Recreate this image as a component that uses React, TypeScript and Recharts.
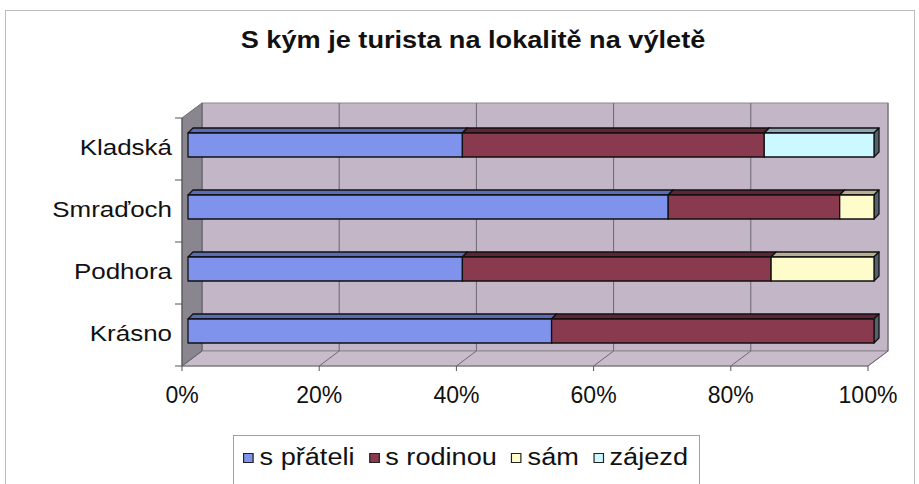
import { BarChart, Bar, XAxis, YAxis, CartesianGrid } from "recharts";

// categories top to bottom, values in % of tourists
const categories = ["Kladská", "Smraďoch", "Podhora", "Krásno"];
const sPrateli = [40, 70, 40, 53];
const sRodinou = [44, 25, 45, 47];
const sam = [0, 5, 15, 0];
const zajezd = [16, 0, 0, 0];
const xTicks = [0, 20, 40, 60, 80, 100];
const seriesNames = ["s přáteli", "s rodinou", "sám", "zájezd"];

const data = categories.map((name, i) => ({
  name,
  prateli: sPrateli[i],
  rodinou: sRodinou[i],
  sam: sam[i],
  zajezd: zajezd[i],
}));

const seriesKeys = ["prateli", "rodinou", "sam", "zajezd"];
const frontColors = ["#8093ec", "#8a3a4e", "#fffccc", "#ccf9ff"];
const topColors = ["#5a6cb6", "#5e2634", "#b8ae92", "#8ea6b4"];
const SIDE = "#55626e";

const FONT = "'Liberation Sans', Arial, sans-serif";
const STRETCH = 1.18; // the original text is a bit wide
const BAR_D = 5; // bar depth
const FRONT = { dx: -6, dy: 4 }; // front plane relative to bar plane
const BACK = { dx: 14, dy: -11 }; // back wall relative to bar plane

const make3DBar = (front: string, top: string) => (props: any) => {
  const { x, y, width, height } = props;
  if (!width || width <= 0.5) return <g />;
  const d = BAR_D;
  return (
    <g stroke="#111" strokeWidth={1.3} strokeLinejoin="round">
      <polygon
        points={`${x},${y} ${x + d},${y - d} ${x + width + d},${y - d} ${x + width},${y}`}
        fill={top}
      />
      <polygon
        points={`${x + width},${y} ${x + width + d},${y - d} ${x + width + d},${y + height - d} ${x + width},${y + height}`}
        fill={SIDE}
      />
      <rect x={x} y={y} width={width} height={height} fill={front} />
    </g>
  );
};

// walls and floor, drawn once from the grid's plot rect
const renderFrame = (props: any) => {
  if (props.index !== 0) return <g key={props.key} />;
  const { x, y, width: w, height: h } = props;
  const fx = x + FRONT.dx, fy = y + FRONT.dy;
  const bx = x + BACK.dx, by = y + BACK.dy;
  return (
    <g key={props.key}>
      <rect x={bx} y={by} width={w} height={h} fill="#c3b6c7" stroke="#8c8890" strokeWidth={1} />
      <polygon
        points={`${fx},${fy + h} ${bx},${by + h} ${bx + w},${by + h} ${fx + w},${fy + h}`}
        fill="#c8bccb"
        stroke="#8c8890"
      />
      <polygon
        points={`${fx},${fy} ${bx},${by} ${bx},${by + h} ${fx},${fy + h}`}
        fill="#8a868f"
        stroke="#6e6a72"
      />
      <line x1={fx} y1={fy} x2={fx} y2={fy + h} stroke="#555" />
      <line x1={fx} y1={fy + h} x2={fx + w} y2={fy + h} stroke="#777" />
    </g>
  );
};

const renderGridLine = (props: any) => {
  const { x1, y1, y2 } = props;
  const d = `M${x1 + BACK.dx},${y1 + BACK.dy} V${y2 + BACK.dy} L${x1 + FRONT.dx},${y2 + FRONT.dy}`;
  return <path key={props.key} d={d} stroke="#6c6870" strokeWidth={1} fill="none" />;
};

const XTick = (props: any) => {
  const { x, y, payload } = props;
  const fx = x + FRONT.dx;
  const fy = y + FRONT.dy;
  return (
    <g>
      <line x1={fx} y1={fy} x2={fx} y2={fy + 5} stroke="#555" />
      <text x={fx} y={fy + 37} textAnchor="middle" fontSize={23} fontFamily={FONT} fill="#111">
        {payload.value}%
      </text>
    </g>
  );
};

const YTick = (props: any) => {
  const { x, y, payload, index, visibleTicksCount, height } = props;
  const band = height && visibleTicksCount ? height / visibleTicksCount : 62;
  const fx = x + FRONT.dx;
  const fy = y + FRONT.dy;
  return (
    <g>
      <line x1={fx - 7} y1={fy - band / 2} x2={fx} y2={fy - band / 2} stroke="#555" />
      {index === visibleTicksCount - 1 && (
        <line x1={fx - 7} y1={fy + band / 2} x2={fx} y2={fy + band / 2} stroke="#555" />
      )}
      <text
        transform={`translate(${fx - 10},${fy + 6}) scale(${STRETCH},1)`}
        textAnchor="end"
        fontSize={22}
        fontFamily={FONT}
        fill="#111"
      >
        {payload.value}
      </text>
    </g>
  );
};

export default function App() {
  return (
    <div
      style={{
        position: "absolute",
        left: 0,
        top: 0,
        width: 919,
        height: 484,
        background: "#fff",
        overflow: "hidden",
        fontFamily: FONT,
      }}
    >
      <div
        style={{
          position: "absolute",
          left: 5,
          top: 10,
          width: 908,
          height: 490,
          border: "1px solid #bdbdbd",
        }}
      />
      <div
        style={{
          position: "absolute",
          left: 0,
          top: 27,
          width: 946,
          textAlign: "center",
          fontSize: 23,
          fontWeight: "bold",
          color: "#111",
          transform: `scale(${STRETCH},1)`,
          transformOrigin: "473px 0",
        }}
      >
        S kým je turista na lokalitě na výletě
      </div>
      <div style={{ position: "absolute", left: 0, top: 0 }}>
        <BarChart
          width={919}
          height={484}
          data={data}
          layout="vertical"
          barSize={24}
          margin={{ top: 114, right: 45, bottom: 92, left: 18 }}
        >
          <CartesianGrid
            horizontal={renderFrame}
            vertical={renderGridLine}
            horizontalPoints={[0]}
          />
          <XAxis
            type="number"
            domain={[0, 100]}
            ticks={xTicks}
            axisLine={false}
            tickLine={false}
            tickSize={0}
            tickMargin={0}
            height={30}
            tick={<XTick />}
          />
          <YAxis
            type="category"
            dataKey="name"
            width={170}
            axisLine={false}
            tickLine={false}
            tickSize={0}
            tickMargin={0}
            tick={<YTick />}
          />
          {seriesKeys.map((k, i) => (
            <Bar
              key={k}
              dataKey={k}
              name={seriesNames[i]}
              stackId="a"
              fill={frontColors[i]}
              isAnimationActive={false}
              shape={make3DBar(frontColors[i], topColors[i])}
            />
          ))}
        </BarChart>
      </div>
      <div
        style={{
          position: "absolute",
          left: 233,
          top: 435,
          width: 467,
          height: 60,
          border: "1px solid #a0a0a0",
          boxSizing: "border-box",
        }}
      />
      <div
        style={{
          position: "absolute",
          left: 243,
          top: 444,
          display: "flex",
          alignItems: "center",
          fontSize: 23,
          color: "#111",
          whiteSpace: "nowrap",
          transform: `scale(${STRETCH},1)`,
          transformOrigin: "0 0",
        }}
      >
        {seriesNames.map((n, i) => (
          <div key={n} style={{ display: "flex", alignItems: "center", marginRight: 12 }}>
            <span
              style={{
                display: "inline-block",
                width: 7,
                height: 8,
                background: frontColors[i],
                border: "1px solid #222",
                marginRight: 5,
              }}
            />
            <span>{n}</span>
          </div>
        ))}
      </div>
    </div>
  );
}
